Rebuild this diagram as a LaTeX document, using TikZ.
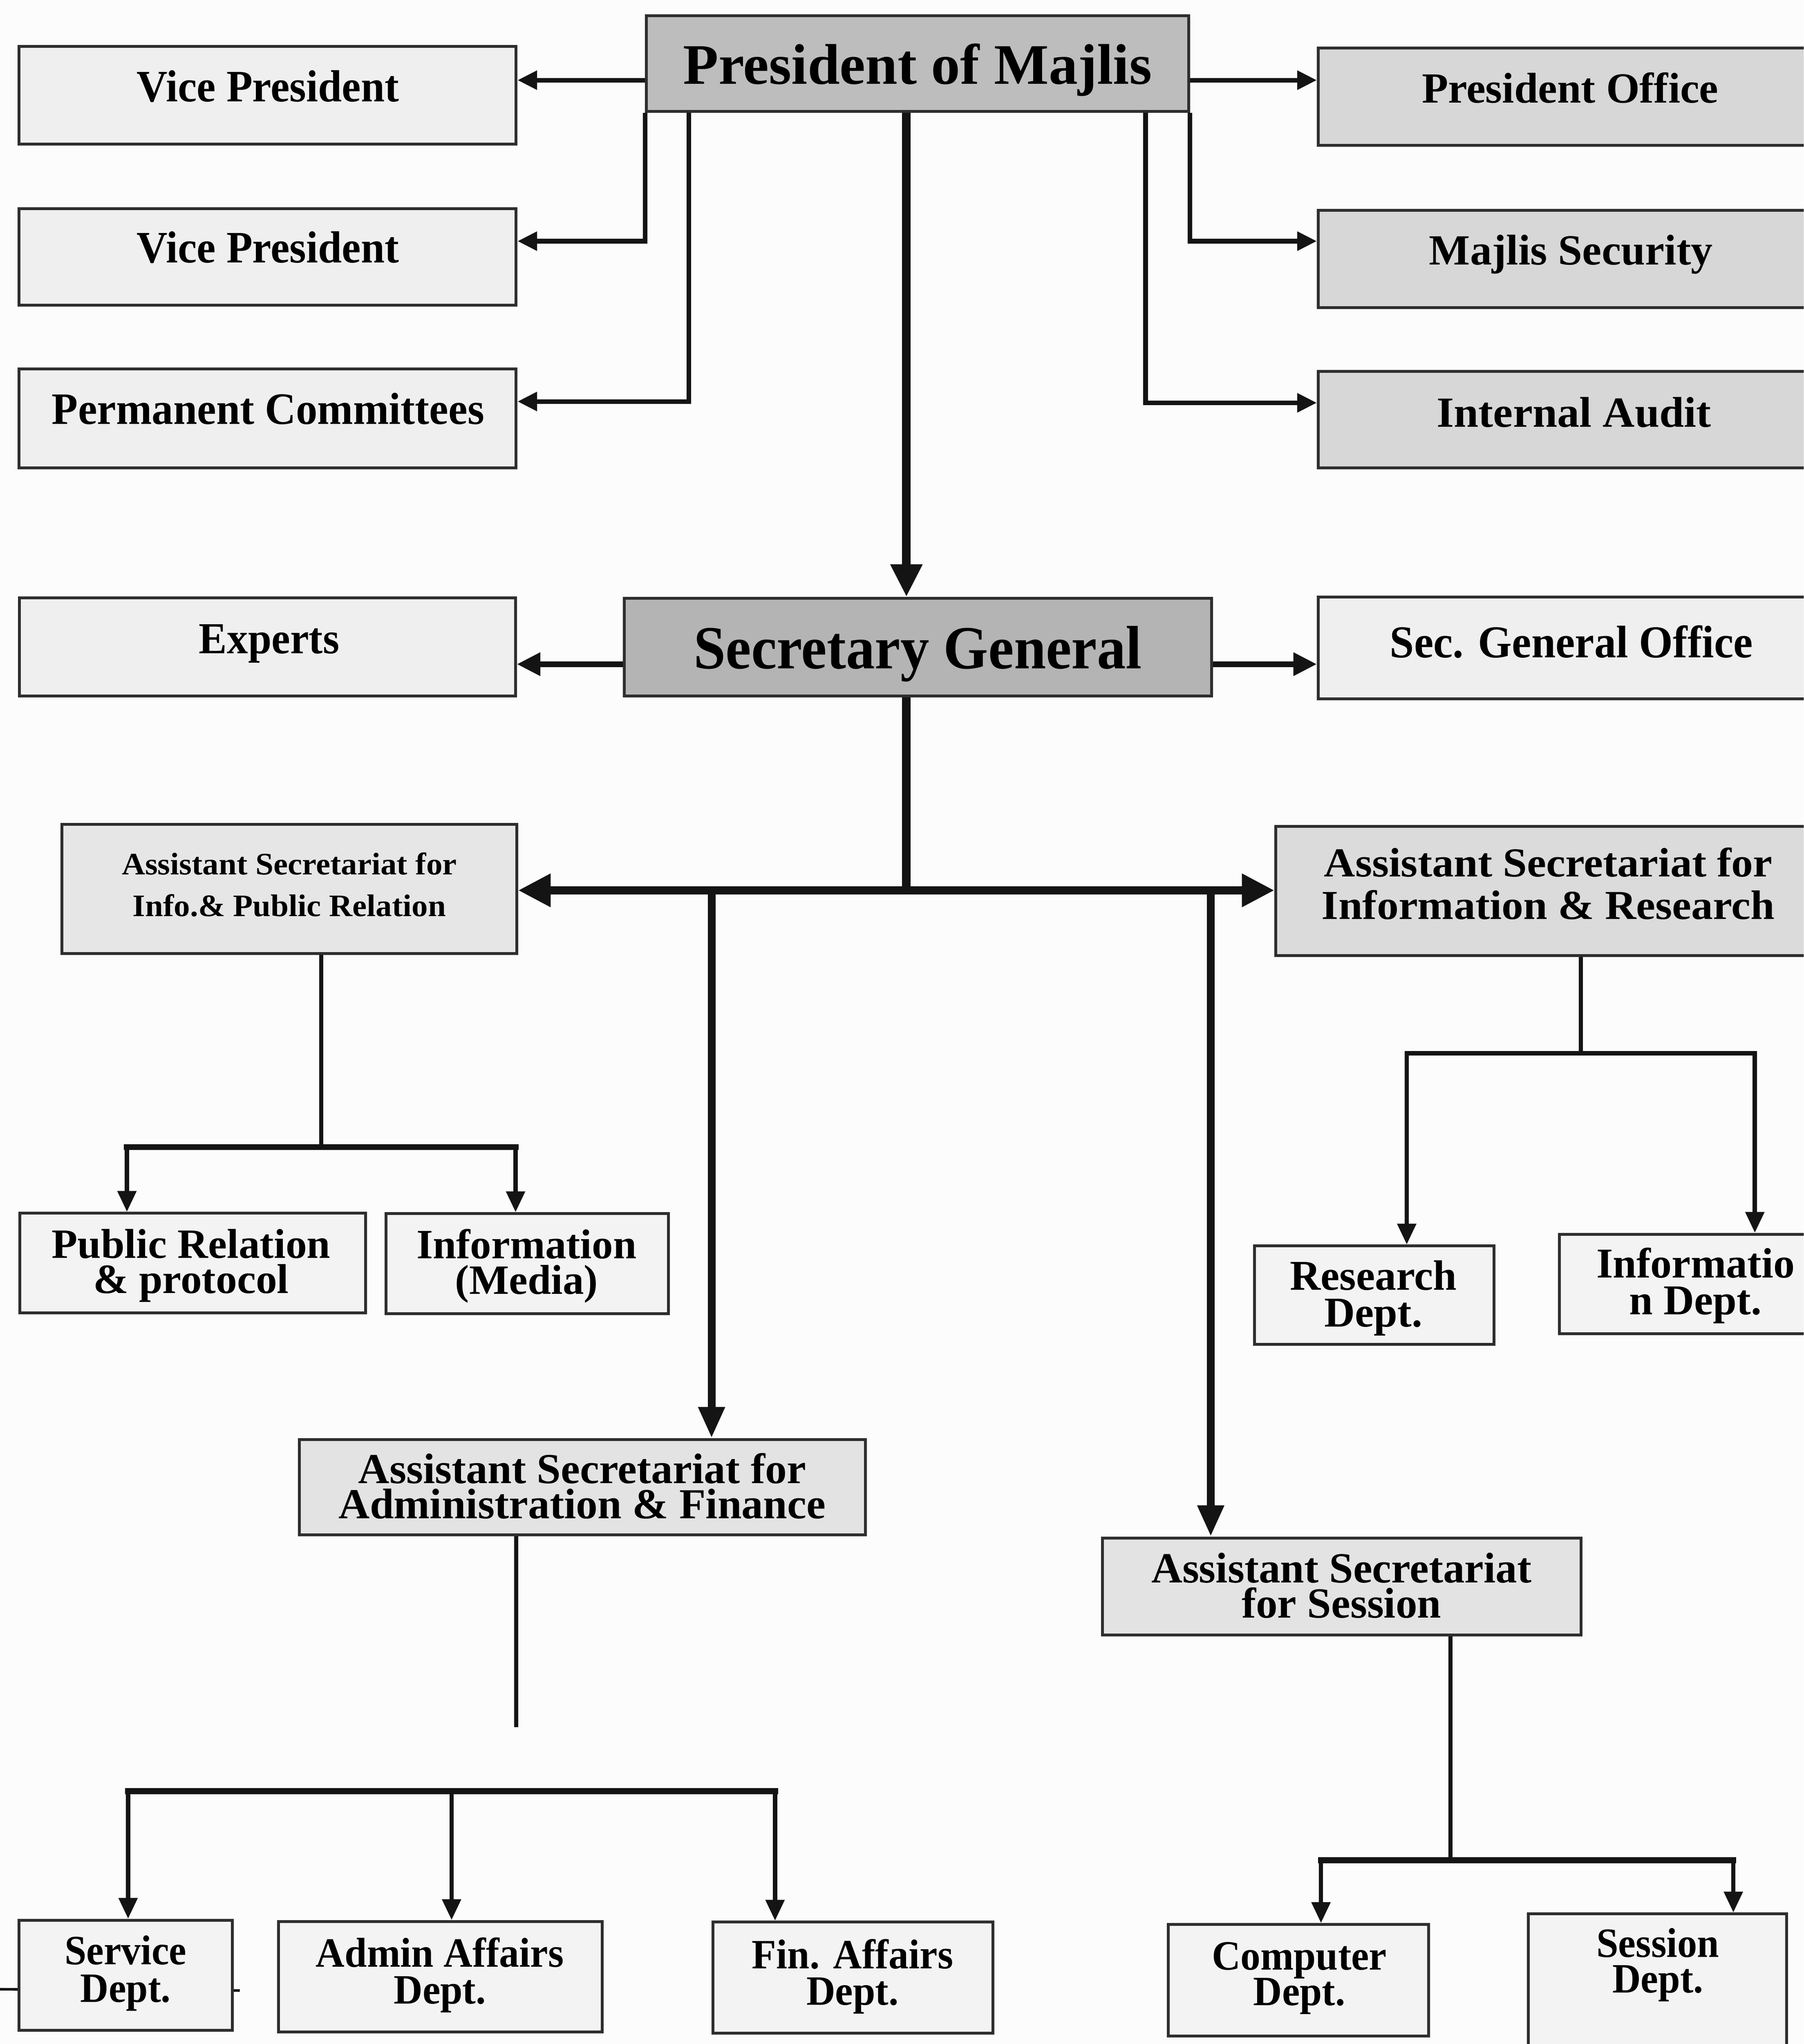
\documentclass[tikz,border=0pt]{standalone}
\usepackage{fontspec}
\setmainfont{Liberation Serif}
\usepackage{graphicx}
\usetikzlibrary{arrows.meta}
\definecolor{bg}{HTML}{FCFCFC}
\definecolor{linec}{HTML}{141414}
\definecolor{bordc}{HTML}{2E2E2E}
\definecolor{fPres}{HTML}{BDBDBD}
\definecolor{fSG}{HTML}{B4B4B4}
\definecolor{fMid}{HTML}{D7D7D7}
\definecolor{fLight}{HTML}{EFEFEF}
\definecolor{fIPR}{HTML}{E6E6E6}
\definecolor{fIR}{HTML}{DBDBDB}
\definecolor{fAF}{HTML}{E3E3E3}
\definecolor{fDept}{HTML}{F3F3F3}
% one line: stretch, size, text
\newcommand\tx[3]{\scalebox{#1}[1]{\fontsize{#2pt}{#2pt}\selectfont\bfseries #3}}
% two centred lines: stretch, size, line distance, line 1, line 2 (baseline = first line)
\newcommand\txx[5]{\scalebox{#1}[1]{\fontsize{#2pt}{#3pt}\selectfont\bfseries
  \vtop{\baselineskip=#3pt\lineskiplimit=-\maxdimen\halign{\hfil##\hfil\cr #4\cr #5\cr}}}}
\begin{document}
\begin{tikzpicture}[x=1pt,y=-1pt,
  box/.style={draw=bordc, line width=2.2pt, rectangle, inner sep=0pt},
  lbl/.style={inner sep=0pt, anchor=base, text=black},
  tarr/.style={draw=linec, line width=3.5pt, -{Triangle[length=15pt,width=14pt]}},
  marr/.style={draw=linec, line width=4.3pt, -{Triangle[length=18pt,width=17pt]}},
  thicksix/.style={draw=linec, line width=6.5pt},
  Tarr/.style={draw=linec, line width=6.5pt, -{Triangle[length=25pt,width=23pt]}},
  Tboth/.style={draw=linec, line width=6.5pt, {Triangle[length=25pt,width=24pt]}-{Triangle[length=25pt,width=24pt]}},
  Tarrb/.style={draw=linec, line width=6pt, -{Triangle[length=24pt,width=19pt]}},
  conn/.style={draw=linec, line width=3.3pt},
  barr/.style={draw=linec, line width=3.3pt, -{Triangle[length=16pt,width=14pt]}},
  hbar/.style={draw=linec, line width=4.5pt, line cap=rect}
]
\useasboundingbox (0,0) rectangle (1384,1568);
\clip (0,0) rectangle (1384,1568);
\fill[bg] (0,0) rectangle (1384,1568);

% stray tick line behind the Service box
\draw[linec, line width=2pt] (0,1526) -- (184,1527);

% ---------- boxes ----------
\node[box, fill=fPres, minimum width=416pt, minimum height=73.5pt] (pres) at (704,48.75) {};
\node[box, fill=fLight, minimum width=381.5pt, minimum height=75pt] (vp1) at (205.25,73) {};
\node[box, fill=fLight, minimum width=381.5pt, minimum height=74pt] (vp2) at (205.25,197) {};
\node[box, fill=fLight, minimum width=381.5pt, minimum height=76pt] (pc) at (205.25,321) {};
\node[box, fill=fMid, minimum width=388.5pt, minimum height=74.5pt] (po) at (1205.75,74.25) {};
\node[box, fill=fMid, minimum width=388.5pt, minimum height=74.5pt] (ms) at (1205.75,198.75) {};
\node[box, fill=fMid, minimum width=388.5pt, minimum height=74pt] (ia) at (1205.75,322) {};
\node[box, fill=fSG, minimum width=450.5pt, minimum height=74.8pt] (sg) at (704.25,496.4) {};
\node[box, fill=fLight, minimum width=380.5pt, minimum height=75.5pt] (exp) at (205.25,496.25) {};
\node[box, fill=fLight, minimum width=388.5pt, minimum height=78pt] (sgo) at (1205.75,497) {};
\node[box, fill=fIPR, minimum width=348.9pt, minimum height=99.2pt] (ipr) at (221.95,681.9) {};
\node[box, fill=fIR, minimum width=418pt, minimum height=99pt] (ir) at (1188,683.5) {};
\node[box, fill=fDept, minimum width=265.3pt, minimum height=76.5pt] (prp) at (147.75,968.95) {};
\node[box, fill=fDept, minimum width=216.6pt, minimum height=76.6pt] (im) at (404.5,969.3) {};
\node[box, fill=fDept, minimum width=183.7pt, minimum height=75.6pt] (rd) at (1054.55,993.6) {};
\node[box, fill=fDept, minimum width=209pt, minimum height=76.2pt] (infd) at (1301,984.9) {};
\node[box, fill=fAF, minimum width=434.2pt, minimum height=72.9pt] (af) at (446.9,1140.85) {};
\node[box, fill=fAF, minimum width=367.3pt, minimum height=74.4pt] (as) at (1029.55,1217.1) {};
\node[box, fill=fDept, minimum width=163.7pt, minimum height=84.5pt] (sv) at (96.55,1515.25) {};
\node[box, fill=fDept, minimum width=248.2pt, minimum height=84.6pt] (aa) at (337.9,1516.3) {};
\node[box, fill=fDept, minimum width=214.8pt, minimum height=85.2pt] (fa) at (654.4,1517.1) {};
\node[box, fill=fDept, minimum width=199.8pt, minimum height=85.5pt] (cd) at (996.4,1519.05) {};
\node[box, fill=fDept, minimum width=198.3pt, minimum height=108pt] (sd) at (1271.75,1522.2) {};

% ---------- texts ----------
\node[lbl] (tpres) at (704,64.6) {\tx{1.01}{44}{President of Majlis}};
\node[lbl] (tvp1) at (205.5,78) {\tx{0.95}{34.5}{Vice President}};
\node[lbl] (tvp2) at (205.5,201.5) {\tx{0.95}{34.5}{Vice President}};
\node[lbl] (tpc) at (205.7,325.5) {\tx{0.954}{34.5}{Permanent Committees}};
\node[lbl] (tpo) at (1204.8,78.9) {\tx{1.0}{33}{President Office}};
\node[lbl] (tms) at (1205.4,203) {\tx{1.01}{33}{Majlis Security}};
\node[lbl] (tia) at (1207.7,327.4) {\tx{1.03}{33}{Internal Audit}};
\node[lbl] (tsg) at (704.25,512.9) {\tx{0.94}{47}{Secretary General}};
\node[lbl] (texp) at (206.5,501.3) {\tx{0.95}{34}{Experts}};
\node[lbl] (tsgo) at (1205.7,504.3) {\tx{0.955}{35}{Sec. General Office}};
\node[lbl] (tipr) at (222,671) {\txx{1.033}{24}{32}{Assistant Secretariat for}{Info.\& Public Relation}};
\node[lbl] (tir) at (1188,672.5) {\txx{1.05}{31.6}{32.6}{Assistant Secretariat for}{Information \& Research}};
\node[lbl] (tprp) at (146.6,965.1) {\txx{1.015}{32}{27.1}{Public Relation}{\& protocol}};
\node[lbl] (tim) at (404,965.3) {\txx{1.01}{32}{27.3}{Information}{(Media)}};
\node[lbl] (trd) at (1053.8,989.5) {\txx{1.0}{32.6}{28.4}{Research}{Dept.}};
\node[lbl] (tinf) at (1301,980) {\txx{1.0}{32.6}{28.5}{Informatio}{n Dept.}};
\node[lbl] (taf) at (446.7,1138) {\txx{1.01}{32.8}{26.7}{Assistant Secretariat for}{Administration \& Finance}};
\node[lbl] (tas) at (1029.3,1214) {\txx{1.0}{33}{27}{Assistant Secretariat}{for Session}};
\node[lbl] (tsv) at (96.4,1507) {\txx{0.94}{32}{28.7}{Service}{Dept.}};
\node[lbl] (taa) at (337.5,1509) {\txx{0.96}{32}{28}{Admin Affairs}{Dept.}};
\node[lbl] (tfa) at (654.2,1510) {\txx{0.96}{32}{28}{Fin. Affairs}{Dept.}};
\node[lbl] (tcd) at (997,1511) {\txx{0.955}{32}{27.5}{Computer}{Dept.}};
\node[lbl] (tsd) at (1272,1501.2) {\txx{0.945}{32}{27.5}{Session}{Dept.}};

% ---------- helper coordinates ----------
\coordinate (y61) at (0,61.5);
\coordinate (y185) at (0,185);
\coordinate (k3) at (528.6,308);
\coordinate (k6) at (879,309);
\coordinate (kx) at (695.5,0);
\coordinate (y509) at (0,509.5);
\coordinate (j) at (695.5,683);
\coordinate (kaf) at (546,0);
\coordinate (kas) at (929,0);
\coordinate (p1) at (246.5,880);
\coordinate (pL) at (97.4,880);
\coordinate (pR) at (395.6,880);
\coordinate (r1) at (1213,808);
\coordinate (rL) at (1079.4,808);
\coordinate (rR) at (1346.5,808);
\coordinate (afend) at (396,1325);
\coordinate (dL) at (98.3,1374);
\coordinate (dM) at (346.5,1374);
\coordinate (dR) at (594.7,1374);
\coordinate (s1) at (1113,1427);
\coordinate (sL) at (1013.6,1427);
\coordinate (sR) at (1330,1427);

% ---------- connectors: President ----------
\draw[tarr] (y61 -| pres.west) -- (y61 -| vp1.east);
\draw[tarr] (pres.south west) |- (y185 -| vp2.east);
\draw[tarr] (k3 |- pres.south) |- (k3 -| pc.east);
\draw[tarr] (y61 -| pres.east) -- (y61 -| po.west);
\draw[tarr] (pres.south east) |- (y185 -| ms.west);
\draw[tarr] (k6 |- pres.south) |- (k6 -| ia.west);
\draw[Tarr] (kx |- pres.south) -- (kx |- sg.north);

% ---------- connectors: Secretary General ----------
\draw[marr] (y509 -| sg.west) -- (y509 -| exp.east);
\draw[marr] (y509 -| sg.east) -- (y509 -| sgo.west);
\draw[thicksix] (kx |- sg.south) -- (j);
\draw[Tboth] (j -| ipr.east) -- (j -| ir.west);
\draw[Tarrb] (kaf |- j) -- (kaf |- af.north);
\draw[Tarrb] (kas |- j) -- (kas |- as.north);

% ---------- Info & PR subtree ----------
\draw[conn] (p1 |- ipr.south) -- (p1);
\draw[barr] (p1) -| (pL |- prp.north);
\draw[barr] (p1) -| (pR |- im.north);
\draw[hbar] (pL) -- (pR);

% ---------- Info & Research subtree ----------
\draw[conn] (r1 |- ir.south) -- (r1);
\draw[barr] (r1) -| (rL |- rd.north);
\draw[barr] (r1) -| (rR |- infd.north);

% ---------- Admin & Finance subtree ----------
\draw[conn] (afend |- af.south) -- (afend);
\draw[hbar] (dL) -- (dR);
\draw[barr] (dL) -- (dL |- sv.north);
\draw[barr] (dM) -- (dM |- aa.north);
\draw[barr] (dR) -- (dR |- fa.north);

% ---------- Session subtree ----------
\draw[conn] (s1 |- as.south) -- (s1);
\draw[barr] (s1) -| (sL |- cd.north);
\draw[barr] (s1) -| (sR |- sd.north);
\draw[hbar] (sL) -- (sR);
\end{tikzpicture}
\end{document}
